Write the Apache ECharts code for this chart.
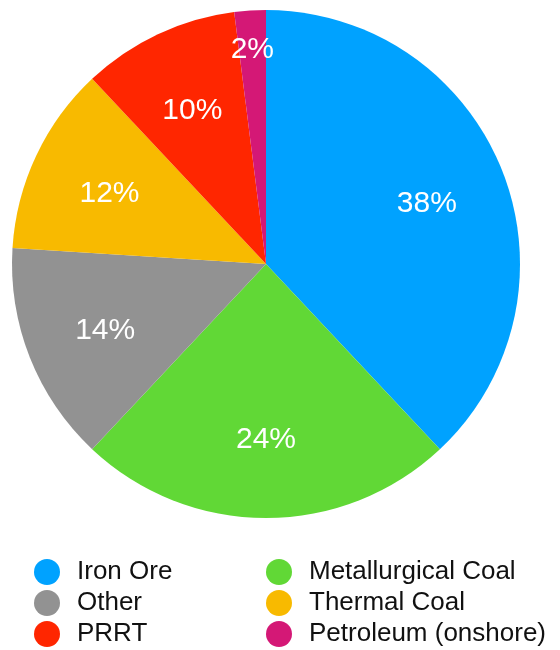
<!DOCTYPE html>
<html>
<head>
<meta charset="utf-8">
<script src="https://cdn.jsdelivr.net/npm/echarts@6/dist/echarts.min.js"></script>
<style>
  html, body { margin: 0; padding: 0; background: #fff; }
  #chart { width: 560px; height: 650px; }
</style>
</head>
<body>
<div id="chart"></div>
<script>
// Revenue share by source (percent)
const categories = ['Iron Ore', 'Metallurgical Coal', 'Other', 'Thermal Coal', 'PRRT', 'Petroleum (onshore)'];
const shares = [38, 24, 14, 12, 10, 2];
const colors = ['#00A2FF', '#61D836', '#929292', '#F8BA00', '#FF2600', '#D41876'];
const legendLeft = ['Iron Ore', 'Other', 'PRRT'];
const legendRight = ['Metallurgical Coal', 'Thermal Coal', 'Petroleum (onshore)'];

const FONT = '"Liberation Sans", "Helvetica Neue", Arial, sans-serif';
const center = [266, 264];
const labelCenter = [266, 267];

const pieData = categories.map((name, i) => ({
  name, value: shares[i], itemStyle: { color: colors[i] }
}));

// Invisible pies used only to place the percentage labels at a chosen radius
function labelSeries(outer, show) {
  return {
    type: 'pie',
    center: labelCenter,
    radius: [0, outer],
    startAngle: 90,
    silent: true,
    legendHoverLink: false,
    animation: false,
    tooltip: { show: false },
    itemStyle: { color: 'rgba(0,0,0,0)' },
    emphasis: { disabled: true },
    labelLine: { show: false },
    data: categories.map((name, i) => ({
      name: name + ' ',
      value: shares[i],
      label: {
        show: show(i),
        position: 'inside',
        formatter: shares[i] + '%',
        color: '#fff',
        fontSize: 30,
        fontFamily: FONT
      }
    }))
  };
}

const legendCommon = {
  orient: 'vertical',
  icon: 'circle',
  padding: 0,
  itemWidth: 26,
  itemHeight: 26,
  itemGap: 5,
  height: 95,
  selectedMode: false,
  textStyle: { fontSize: 26, color: '#111', fontFamily: FONT, padding: [2, 0, 0, 12] }
};

const chart = echarts.init(document.getElementById('chart'), null, { renderer: 'canvas' });
chart.setOption({
  animation: false,
  legend: [
    Object.assign({}, legendCommon, { left: 34, top: 559, data: legendLeft }),
    Object.assign({}, legendCommon, { left: 266, top: 559, data: legendRight })
  ],
  series: [
    {
      type: 'pie',
      center,
      radius: [0, 254],
      startAngle: 90,
      label: { show: false },
      labelLine: { show: false },
      emphasis: { disabled: true },
      itemStyle: { borderWidth: 0 },
      data: pieData
    },
    labelSeries(340, i => shares[i] > 2),
    labelSeries(430, i => shares[i] <= 2)
  ]
});
</script>
</body>
</html>
